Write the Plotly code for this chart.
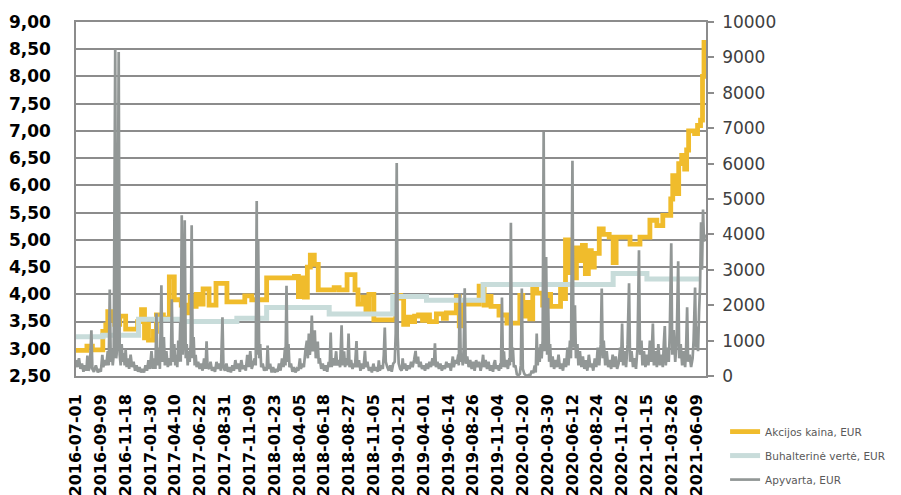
import plotly.graph_objects as go

# ---- axis categories (trading sessions; every 50th session labelled) ----
tick_day = [0, 50, 100, 150, 200, 250, 300, 350, 400, 450, 500, 550, 600,
            650, 700, 750, 800, 850, 900, 950, 1000, 1050, 1100, 1150, 1200, 1250]
tick_labels = ["2016-07-01", "2016-09-09", "2016-11-18", "2017-01-30", "2017-04-10",
               "2017-06-22", "2017-08-31", "2017-11-09", "2018-01-23", "2018-04-05",
               "2018-06-18", "2018-08-27", "2018-11-05", "2019-01-21", "2019-04-01",
               "2019-06-14", "2019-08-26", "2019-11-04", "2020-01-20", "2020-03-30",
               "2020-06-12", "2020-08-24", "2020-11-02", "2021-01-15", "2021-03-26",
               "2021-06-09"]

# ---- share price, EUR (session, value) ----
price_points = [
    (0, 2.97), (22, 3.05), (33, 2.98), (54, 3.32), (60, 3.44), (64, 3.68), (72, 3.52),
    (78, 3.45), (88, 3.60), (100, 3.36), (124, 3.50), (132, 3.72), (138, 3.20), (142, 3.45),
    (146, 3.16), (156, 3.32), (162, 3.62), (176, 3.56), (188, 4.32), (198, 3.90), (212, 3.80),
    (222, 3.66), (230, 3.96), (236, 3.78), (242, 4.00), (250, 3.82), (256, 4.10), (268, 3.80),
    (282, 4.20), (304, 3.86), (340, 3.97), (354, 3.90), (384, 4.30), (440, 4.33), (448, 3.96),
    (454, 4.30), (460, 3.95), (466, 4.50), (472, 4.72), (480, 4.55), (488, 4.08), (520, 4.12),
    (530, 4.08), (546, 4.36), (562, 4.08), (568, 3.82), (578, 3.95), (584, 3.72), (590, 4.00),
    (600, 3.53), (644, 3.98), (654, 3.93), (660, 3.45), (668, 3.58), (676, 3.50), (682, 3.60),
    (690, 3.62), (698, 3.52), (704, 3.62), (712, 3.50), (726, 3.64), (740, 3.56), (746, 3.66),
    (766, 3.96), (772, 3.42), (778, 3.82), (812, 4.15), (822, 3.80), (830, 3.96),
    (836, 3.78), (852, 3.62), (868, 3.47), (894, 3.98), (900, 3.60), (906, 3.85), (914, 3.55),
    (920, 4.18), (928, 4.02), (940, 3.80), (950, 4.00), (956, 3.78), (976, 4.10), (982, 3.92),
    (986, 5.00), (994, 4.40), (1004, 4.30), (1008, 4.85), (1014, 4.62), (1020, 4.90),
    (1026, 4.38), (1032, 4.80), (1038, 4.50), (1044, 4.75), (1054, 5.20), (1062, 5.10),
    (1074, 5.05), (1082, 4.58), (1088, 5.05), (1116, 4.92), (1136, 5.05), (1156, 5.36),
    (1170, 5.26), (1182, 5.45), (1198, 5.75), (1202, 6.18), (1208, 5.85), (1214, 6.40),
    (1220, 6.55), (1226, 6.30), (1230, 6.65), (1234, 7.00), (1246, 6.95), (1252, 7.10),
    (1258, 7.20), (1262, 8.00), (1265, 8.67),
]

# ---- book value per share, EUR (session, value) ----
book_points = [
    (0, 3.22), (54, 3.25), (126, 3.54), (214, 3.50), (324, 3.56), (384, 3.76), (510, 3.64),
    (638, 3.96), (706, 3.89), (820, 4.18), (1082, 4.38), (1150, 4.28), (1256, 4.28),
]

# ---- turnover, EUR (session, value) ----
vol_points = [
    (0, 450), (3, 250), (6, 500), (9, 200), (12, 350), (15, 120), (18, 300), (21, 150), (23, 580), (25, 150),
    (28, 250), (31, 1290), (33, 200), (36, 120), (40, 300), (44, 100), (47, 200), (50, 120), (53, 600), (55, 250),
    (58, 450), (61, 300), (64, 700), (66, 300), (68, 2440), (70, 400), (72, 750), (74, 300), (76, 600), (79, 9220),
    (81, 500), (83, 800), (86, 9150), (88, 600), (90, 300), (92, 900), (94, 400), (96, 650), (98, 300), (100, 750),
    (102, 250), (104, 500), (107, 200), (110, 600), (113, 250), (116, 400), (119, 150), (122, 300), (125, 120), (128, 250),
    (131, 100), (134, 200), (137, 100), (140, 300), (143, 150), (146, 450), (149, 200), (152, 700), (155, 200), (158, 500),
    (160, 200), (162, 1770), (164, 300), (167, 800), (169, 200), (172, 2560), (174, 400), (177, 1100), (179, 300), (182, 700),
    (185, 250), (188, 500), (191, 300), (193, 2170), (195, 400), (198, 900), (200, 300), (202, 600), (204, 250), (206, 1000),
    (208, 400), (210, 1500), (211, 400), (213, 4540), (215, 600), (217, 1300), (219, 4400), (221, 500), (223, 900), (225, 300),
    (227, 700), (229, 400), (231, 900), (233, 4260), (235, 500), (237, 1100), (239, 300), (241, 600), (243, 250), (246, 400),
    (249, 200), (252, 350), (255, 150), (258, 500), (261, 200), (263, 980), (265, 250), (268, 200), (271, 400), (274, 150),
    (277, 250), (280, 120), (283, 400), (286, 200), (289, 350), (292, 150), (295, 1660), (297, 250), (300, 150), (303, 350),
    (306, 120), (309, 250), (312, 100), (315, 300), (318, 150), (321, 450), (324, 200), (327, 350), (330, 120), (333, 450),
    (336, 200), (339, 300), (342, 150), (345, 600), (348, 250), (351, 700), (354, 200), (357, 350), (360, 500), (362, 300),
    (364, 4940), (365, 600), (367, 3830), (369, 500), (371, 900), (373, 250), (376, 350), (379, 150), (382, 250), (384, 150),
    (386, 860), (388, 200), (391, 350), (394, 100), (397, 250), (400, 100), (403, 200), (406, 120), (409, 350), (412, 150),
    (415, 500), (418, 250), (421, 800), (422, 300), (424, 2550), (426, 400), (428, 900), (430, 250), (433, 350), (436, 120),
    (439, 250), (442, 100), (445, 200), (448, 150), (451, 500), (453, 200), (456, 350), (459, 250), (462, 700), (465, 1000),
    (467, 500), (469, 1200), (471, 600), (473, 900), (475, 1710), (477, 700), (479, 900), (481, 1290), (483, 500), (485, 700),
    (487, 970), (489, 350), (491, 500), (494, 200), (497, 350), (500, 150), (503, 300), (506, 120), (509, 400), (511, 250),
    (513, 1230), (515, 250), (518, 500), (521, 300), (524, 700), (526, 300), (529, 450), (532, 250), (535, 1430), (537, 300),
    (540, 700), (542, 250), (545, 500), (547, 300), (549, 1200), (551, 250), (554, 450), (557, 200), (560, 350), (562, 250),
    (565, 985), (567, 250), (570, 450), (573, 150), (576, 350), (579, 200), (582, 710), (584, 250), (587, 400), (590, 150),
    (593, 250), (596, 100), (599, 350), (602, 150), (605, 250), (608, 120), (610, 440), (612, 150), (615, 300), (618, 200),
    (620, 600), (622, 1370), (624, 400), (627, 250), (630, 150), (633, 300), (636, 120), (639, 350), (642, 400), (644, 1200),
    (646, 6020), (648, 1100), (650, 350), (653, 200), (656, 150), (658, 500), (660, 200), (663, 350), (666, 150), (669, 300),
    (672, 200), (675, 400), (678, 250), (681, 450), (684, 710), (686, 350), (689, 550), (691, 250), (694, 400), (697, 200),
    (700, 300), (703, 150), (706, 350), (709, 200), (712, 400), (715, 250), (718, 500), (721, 300), (723, 920), (725, 250),
    (728, 400), (731, 200), (734, 350), (737, 150), (740, 300), (743, 200), (746, 400), (749, 250), (752, 350), (755, 150),
    (757, 350), (759, 550), (761, 250), (764, 450), (767, 350), (770, 600), (771, 300), (773, 2330), (775, 400), (777, 600),
    (779, 300), (781, 800), (783, 2480), (785, 350), (788, 550), (791, 250), (794, 450), (797, 200), (800, 400), (803, 150),
    (806, 450), (809, 250), (812, 400), (815, 150), (818, 350), (820, 600), (822, 250), (825, 450), (828, 200), (831, 400),
    (834, 150), (837, 300), (840, 120), (842, 350), (844, 450), (846, 200), (849, 300), (852, 150), (855, 350), (856, 200),
    (858, 2220), (860, 250), (862, 700), (864, 250), (867, 450), (870, 200), (873, 500), (874, 300), (876, 4330), (878, 400),
    (880, 800), (882, 250), (885, 300), (888, 50), (891, 20), (894, 60), (896, 300), (898, 2470), (900, 200), (903, 60),
    (906, 20), (909, 10), (912, 30), (915, 20), (918, 150), (921, 80), (924, 300), (926, 100), (928, 1200), (930, 300),
    (932, 800), (934, 400), (936, 900), (938, 500), (940, 1000), (942, 6890), (944, 700), (947, 3360), (949, 600), (951, 2200),
    (953, 400), (955, 900), (957, 250), (960, 550), (963, 200), (966, 450), (969, 250), (972, 600), (975, 200), (978, 350),
    (981, 150), (984, 500), (987, 250), (990, 800), (992, 300), (995, 1000), (997, 500), (1000, 6080), (1002, 800), (1005, 2000),
    (1007, 500), (1010, 900), (1012, 300), (1015, 700), (1018, 250), (1021, 550), (1024, 200), (1027, 450), (1030, 150), (1033, 600),
    (1036, 250), (1039, 350), (1042, 150), (1045, 500), (1048, 250), (1051, 800), (1054, 300), (1057, 900), (1059, 2470), (1061, 500),
    (1063, 1000), (1066, 300), (1069, 700), (1072, 250), (1075, 450), (1078, 200), (1081, 600), (1084, 250), (1087, 550), (1090, 200),
    (1093, 350), (1096, 800), (1098, 400), (1100, 1480), (1102, 300), (1105, 700), (1108, 250), (1111, 900), (1114, 2620), (1116, 400),
    (1119, 700), (1122, 250), (1125, 500), (1128, 200), (1131, 800), (1134, 3550), (1136, 600), (1139, 1000), (1141, 300), (1144, 700),
    (1147, 250), (1150, 600), (1153, 300), (1156, 1000), (1159, 400), (1162, 1480), (1164, 300), (1167, 700), (1170, 250), (1173, 900),
    (1176, 300), (1179, 600), (1182, 250), (1184, 900), (1186, 1410), (1188, 300), (1191, 800), (1194, 400), (1196, 1200), (1199, 3750),
    (1201, 600), (1204, 1300), (1207, 400), (1210, 1000), (1213, 3240), (1215, 500), (1218, 900), (1221, 300), (1224, 700), (1227, 250),
    (1229, 800), (1231, 1940), (1233, 400), (1236, 600), (1239, 250), (1242, 500), (1244, 1000), (1247, 2500), (1249, 800), (1251, 1400),
    (1253, 700), (1255, 1800), (1257, 2500), (1259, 4340), (1261, 3000), (1263, 4700), (1265, 3800), (1267, 4000),
]

price_day = [d for d, _ in price_points]
price_val = [v for _, v in price_points]
book_day = [d for d, _ in book_points]
book_val = [v for _, v in book_points]
vol_day = [d for d, _ in vol_points]
vol_eur = [v for _, v in vol_points]

GRID = "#8c8c8c"
FONT = "DejaVu Sans"

fig = go.Figure()
fig.add_trace(go.Scatter(
    x=price_day, y=price_val, name="Akcijos kaina, EUR", mode="lines",
    line=dict(color="#F0BC2C", width=4.8, shape="hv"), legendgroup="a"))
fig.add_trace(go.Scatter(
    x=book_day, y=book_val, name="Buhalterinė vertė, EUR", mode="lines",
    line=dict(color="#C8DCDA", width=5, shape="hv"), legendgroup="b"))
fig.add_trace(go.Scatter(
    x=vol_day, y=vol_eur, name="Apyvarta, EUR", mode="lines", yaxis="y2",
    line=dict(color="#929796", width=2.7, simplify=False), legendgroup="c"))

# the page adds an 8px body margin, so the figure is 8px smaller than the window
fig.update_layout(
    width=893, height=487,
    margin=dict(l=68, r=195, t=14, b=119, autoexpand=False),
    plot_bgcolor="white", paper_bgcolor="white",
    separators=", ",
    showlegend=True,
    legend=dict(
        xref="container", yref="container", x=0.803, y=0.16,
        xanchor="left", yanchor="top",
        font=dict(family=FONT, size=10.5, color="#595959"),
        traceorder="grouped", tracegroupgap=5, bgcolor="rgba(0,0,0,0)",
    ),
    xaxis=dict(
        range=[0, 1269], tickmode="array", tickvals=tick_day, ticktext=tick_labels,
        tickangle=-90, showgrid=False, zeroline=False, automargin=False,
        showline=True, linecolor=GRID, linewidth=1.5, mirror=True, ticks="",
        ticklabelstandoff=10,
        tickfont=dict(family=FONT, size=16, color="black", weight="bold"),
    ),
    yaxis=dict(
        range=[2.5, 9], tick0=2.5, dtick=0.5, tickformat=".2f", automargin=False,
        showgrid=True, gridcolor=GRID, gridwidth=1.5, zeroline=False,
        showline=True, linecolor=GRID, linewidth=1.5, ticks="",
        ticklabelstandoff=20,
        tickfont=dict(family=FONT, size=17, color="black", weight="bold"),
    ),
    yaxis2=dict(
        overlaying="y", side="right", range=[0, 10000], dtick=1000, tickformat="d",
        showgrid=False, zeroline=False, showline=True, linecolor=GRID, linewidth=1.5,
        ticks="outside", ticklen=6, tickwidth=1.5, tickcolor=GRID, automargin=False,
        ticklabelstandoff=5,
        tickfont=dict(family=FONT, size=17, color="#404040"),
    ),
)

fig.write_html("out.html", include_plotlyjs=True, config={"displayModeBar": False})
